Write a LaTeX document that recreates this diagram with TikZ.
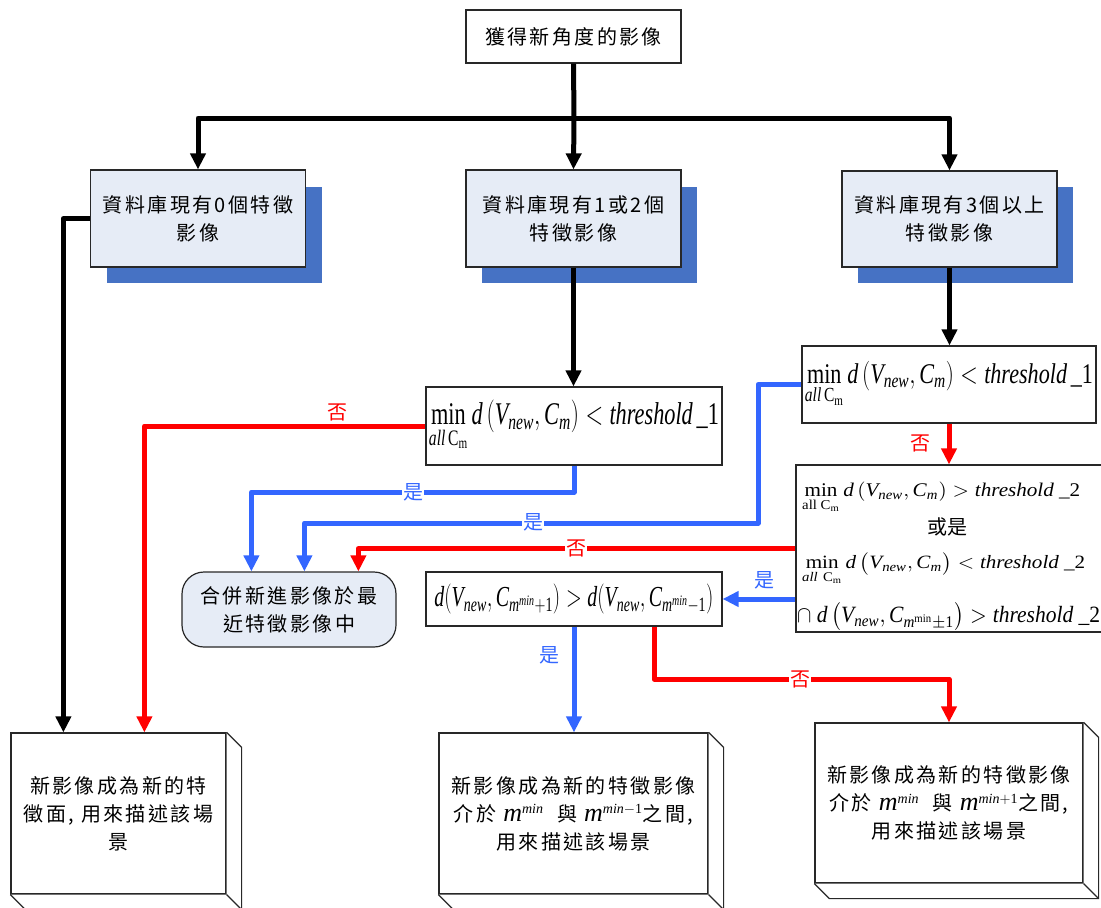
\documentclass[tikz,border=0pt]{standalone}
\usepackage{amsmath}
\usepackage{graphicx}
\usepackage{fontspec}
\setmainfont{Liberation Serif}
\newfontfamily\cjk[LetterSpace=12]{Noto Sans CJK TC}
\newfontfamily\cjkn{Noto Sans CJK TC}
\usetikzlibrary{arrows.meta,calc}
\definecolor{lblue}{RGB}{51,102,255}
\definecolor{shblue}{RGB}{70,114,196}
\definecolor{boxfill}{RGB}{230,236,246}
\definecolor{edge}{RGB}{40,40,40}
\newcommand\mi[1]{\text{\normalfont\itshape #1}}
\newcommand\mr[1]{\text{\normalfont #1}}
\newcommand\mymm{\text{\normalfont\itshape\fontsize{26}{26}\selectfont m}}
\begin{document}
\begin{tikzpicture}[x=1pt,y=-1pt,
  plain/.style={draw=edge,line width=1.2pt,fill=white,inner sep=0pt,align=center,
    font=\cjk\fontsize{20}{28}\selectfont},
  dbbox/.style={plain,fill=boxfill},
  shadow/.style={fill=shblue,draw=none},
  conn/.style={line width=5pt,line join=round},
  blk/.style={conn,draw=black,-{Triangle[width=15pt,length=16pt]}},
  blkl/.style={conn,draw=black},
  redl/.style={conn,draw=red,-{Triangle[width=15pt,length=16pt]}},
  bluel/.style={conn,draw=lblue,-{Triangle[width=15pt,length=16pt]}},
  lblr/.style={text=red,inner sep=1pt,font=\cjkn\fontsize{20}{20}\selectfont},
  lblb/.style={text=lblue,inner sep=1pt,font=\cjkn\fontsize{20}{20}\selectfont},
  ftxt/.style={inner sep=0pt},
  side/.style={draw=edge,line width=1.2pt}
]
\useasboundingbox (0,0) rectangle (1101,908);
\fill[white] (0,0) rectangle (1101,908);

% shadows
\fill[shadow] (107,187) rectangle (322,283);
\fill[shadow] (482,187) rectangle (697,283);
\fill[shadow] (858,187) rectangle (1073,283);

% nodes
\node[plain,minimum width=215pt,minimum height=53pt] (top) at (573.5,36.5) {獲得新角度的影像};
\node[dbbox,minimum width=215pt,minimum height=97pt] (b1) at (198,218.5) {資料庫現有0個特徵\\影像};
\node[dbbox,minimum width=215pt,minimum height=97pt] (b2) at (573.5,218.5) {資料庫現有1或2個\\特徵影像};
\node[dbbox,minimum width=215pt,minimum height=96pt] (b3) at (949.5,219) {資料庫現有3個以上\\特徵影像};

\node[plain,minimum width=296pt,minimum height=78pt] (f1) at (574,426) {\raisebox{-5pt}{\resizebox*{290pt}{52pt}{$\mathop{\mr{min}}\limits_{\mi{all}\,\mr{C}_\mr{m}}\mi{d}\left(\mi{V}_{\mi{new}},\mi{C}_{\mi{m}}\right)<\mi{threshold}\,\mr{\_1}$}}};

\node[plain,minimum width=294pt,minimum height=77pt] (f2) at (949,384.5) {\raisebox{-4pt}{\resizebox*{288pt}{47pt}{$\mathop{\mr{min}}\limits_{\mi{all}\,\mr{C}_\mr{m}}\mi{d}\left(\mi{V}_{\mi{new}},\mi{C}_{\mi{m}}\right)<\mi{threshold}\,\mr{\_1}$}}};

\node[plain,minimum width=308pt,minimum height=167pt] (f3) at (950,548.5) {};
\node[ftxt,anchor=west] (f3a) at (802,497.5) {\resizebox*{278pt}{31pt}{$\mathop{\mr{min}}\limits_{\mr{all C}_\mr{m}}\mi{d}\,(\mi{V}_{\mi{new}},\mi{C}_{\mi{m}})>\mi{threshold}\ \mr{\_2}$}};
\node[ftxt,font=\cjkn\fontsize{20}{20}\selectfont] (f3b) at (947,527) {或是};
\node[ftxt,anchor=west] (f3c) at (802,569) {\resizebox*{283pt}{32pt}{$\mathop{\mr{min}}\limits_{\mi{all}\ \mr{C}_\mr{m}}\mi{d}\,\bigl(\mi{V}_{\mi{new}},\mi{C}_{\mi{m}}\bigr)<\mi{threshold}\ \mr{\_2}$}};
\node[ftxt,anchor=west] (f3d) at (797,617) {\resizebox*{303pt}{28pt}{$\cap\ \mi{d}\,\bigl(\mi{V}_{\mi{new}},\mi{C}_{\mi{m}^{\mr{min}}\pm\mr{1}}\bigr)>\mi{threshold}\ \mr{\_2}$}};

\node[plain,minimum width=296pt,minimum height=54pt] (f4) at (574,599) {\raisebox{-3.5pt}{\resizebox*{279pt}{30pt}{$\mi{d}(\mi{V}_{\mi{new}},\mi{C}_{\mi{m}^{\mi{min}}+\mr{1}})>\mi{d}(\mi{V}_{\mi{new}},\mi{C}_{\mi{m}^{\mi{min}}-\mr{1}})$}}};

\node[dbbox,rounded corners=22pt,minimum width=214pt,minimum height=75pt] (m) at (289,609.5) {合併新進影像於最\\近特徵影像中};

% 3D boxes
\node[plain,minimum width=215pt,minimum height=161pt] (l1) at (118.5,813.5) {新影像成為新的特\\徵面, 用來描述該場\\景};
\node[plain,minimum width=269pt,minimum height=161pt] (l2) at (573.5,813.5) {新影像成為新的特徵影像\\介於 $\mymm^{\mi{min}}$\ \ 與 $\mymm^{\mi{min}-\mr{1}}$之間,\\用來描述該場景};
\node[plain,minimum width=268pt,minimum height=160pt] (l3) at (949,803) {新影像成為新的特徵影像\\介於 $\mymm^{\mi{min}}$\ \ 與 $\mymm^{\mi{min}+\mr{1}}$之間,\\用來描述該場景};
\foreach \b in {l1,l2,l3}{
  \fill[white] (\b.north east) -- ($(\b.north east)+(15,15)$) -- ($(\b.south east)+(15,15)$) -- ($(\b.south west)+(15,15)$) -- (\b.south west) -- (\b.south east) -- cycle;
  \draw[side] (\b.north east) -- ($(\b.north east)+(15,15)$) -- ($(\b.south east)+(15,15)$) -- ($(\b.south west)+(15,15)$) -- (\b.south west);
  \draw[side] (\b.south east) -- ($(\b.south east)+(15,15)$);
}

% connectors
\coordinate (j) at (574,118);
\draw[blkl] (top.south) -- (j);
\draw[blk] (j) -| (b1.north);
\draw[blk] (j) -- (b2.north);
\draw[blk] (j) -| (b3.north);
\draw[blk] (b1.west) -| ($(l1.north west)+(53,0)$);
\draw[blk] (b2.south) -- (b2.south |- f1.north);
\draw[blk] (b3.south) -- (b3.south |- f2.north);

\draw[redl] (f1.west) -| ($(l1.north west)+(134,0)$);
\coordinate (k0) at (574,492);
\draw[bluel] (f1.south) -- (k0) -| ($(m.north west)+(70,0)$);
\coordinate (k1) at (758,523);
\draw[bluel] (f2.west) -| (k1) -| ($(m.north west)+(123,0)$);
\draw[redl] (f2.south) -- (f2.south |- f3.north);
\draw[redl] (f3.west) -| ($(m.north west)+(177,0)$);
\draw[bluel] (f3.west |- f4.east) -- (f4.east);
\draw[bluel] (f4.south) -- (f4.south |- l2.north);
\coordinate (k2) at (654,679);
\draw[redl] (k2 |- f4.south) -- (k2) -| (l3.north);

% labels
\node[lblr] (n1) at (337,412) {否};
\node[lblb,fill=white] (y1) at (413,492) {是};
\node[lblb,fill=white] (y2) at (533,522) {是};
\node[lblr,fill=white] (n2) at (576,548) {否};
\node[lblr] (n3) at (920,443) {否};
\node[lblb] (y3) at (764,580) {是};
\node[lblb] (y4) at (549,655) {是};
\node[lblr,fill=white] (n4) at (800,679) {否};
\end{tikzpicture}
\end{document}
